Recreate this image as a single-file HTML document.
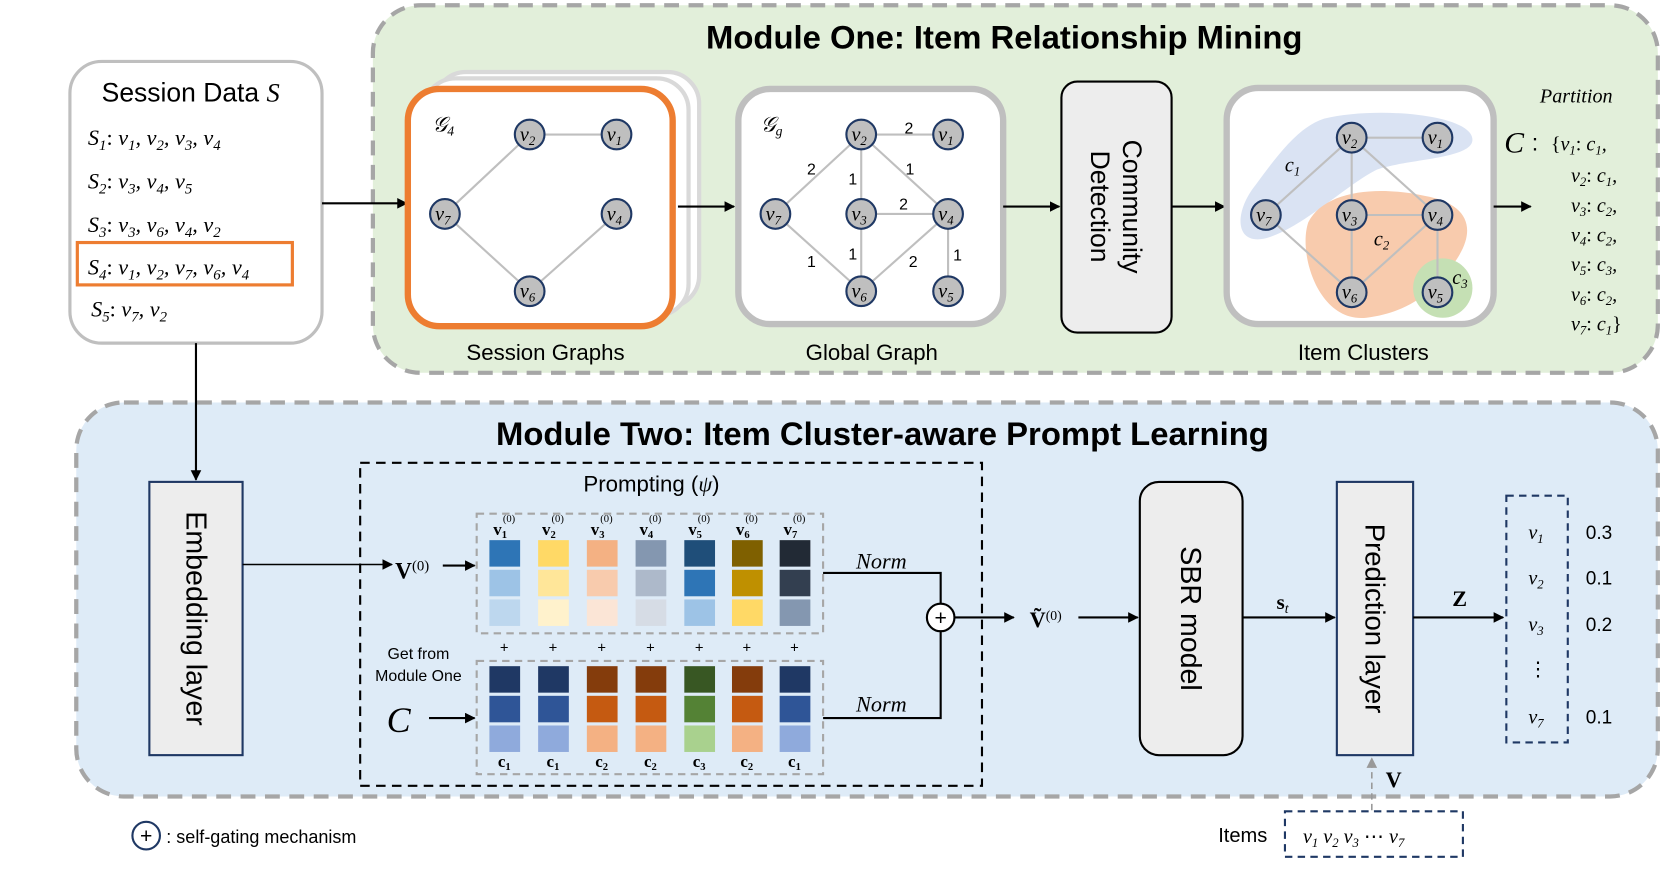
<!DOCTYPE html>
<html><head><meta charset="utf-8"><style>
html,body{margin:0;padding:0;background:#fff;}
svg{display:block;}
.s{font-family:"Liberation Sans",sans-serif;}
.m{font-family:"Liberation Serif",serif;font-style:italic;}
.b{font-family:"Liberation Serif",serif;font-weight:bold;}
</style></head><body>
<svg width="1661" height="878" viewBox="0 0 1568 829" preserveAspectRatio="none" xmlns="http://www.w3.org/2000/svg">
<defs>
<marker id="ar" markerWidth="10" markerHeight="10" refX="9" refY="5" orient="auto" markerUnits="userSpaceOnUse"><path d="M0,0 L10,5 L0,10 z" fill="#000"/></marker>
<marker id="arg" markerWidth="10" markerHeight="10" refX="9" refY="5" orient="auto" markerUnits="userSpaceOnUse"><path d="M0,0 L10,5 L0,10 z" fill="#999"/></marker>
<g id="nd"><circle r="14" fill="#bfbfbf" stroke="#1f3864" stroke-width="2"/></g>
</defs>

<!-- Module One -->
<rect x="352" y="5" width="1213" height="347" rx="45" fill="#e2efda" stroke="#a6a6a6" stroke-width="4" stroke-dasharray="14,9"/>
<text x="948" y="46" text-anchor="middle" class="s" font-size="31" font-weight="bold">Module One: Item Relationship Mining</text>

<!-- Module Two -->
<rect x="72" y="380" width="1493" height="372" rx="45" fill="#deebf7" stroke="#a6a6a6" stroke-width="4" stroke-dasharray="14,9"/>
<text x="833" y="420" text-anchor="middle" class="s" font-size="31" font-weight="bold">Module Two: Item Cluster-aware Prompt Learning</text>

<!-- Session data -->
<rect x="66" y="58" width="238" height="266" rx="30" fill="#fff" stroke="#bfbfbf" stroke-width="3"/>
<text x="96" y="96" class="s" font-size="25">Session Data <tspan class="m">S</tspan></text>
<g class="m" font-size="21">
<text x="83" y="137">S<tspan font-size="14" baseline-shift="-30%">1</tspan><tspan font-style="normal">: </tspan>v<tspan font-size="14" baseline-shift="-30%">1</tspan>, v<tspan font-size="14" baseline-shift="-30%">2</tspan>, v<tspan font-size="14" baseline-shift="-30%">3</tspan>, v<tspan font-size="14" baseline-shift="-30%">4</tspan></text>
<text x="83" y="178">S<tspan font-size="14" baseline-shift="-30%">2</tspan><tspan font-style="normal">: </tspan>v<tspan font-size="14" baseline-shift="-30%">3</tspan>, v<tspan font-size="14" baseline-shift="-30%">4</tspan>, v<tspan font-size="14" baseline-shift="-30%">5</tspan></text>
<text x="83" y="219">S<tspan font-size="14" baseline-shift="-30%">3</tspan><tspan font-style="normal">: </tspan>v<tspan font-size="14" baseline-shift="-30%">3</tspan>, v<tspan font-size="14" baseline-shift="-30%">6</tspan>, v<tspan font-size="14" baseline-shift="-30%">4</tspan>, v<tspan font-size="14" baseline-shift="-30%">2</tspan></text>
<text x="83" y="259">S<tspan font-size="14" baseline-shift="-30%">4</tspan><tspan font-style="normal">: </tspan>v<tspan font-size="14" baseline-shift="-30%">1</tspan>, v<tspan font-size="14" baseline-shift="-30%">2</tspan>, v<tspan font-size="14" baseline-shift="-30%">7</tspan>, v<tspan font-size="14" baseline-shift="-30%">6</tspan>, v<tspan font-size="14" baseline-shift="-30%">4</tspan></text>
<text x="86" y="299">S<tspan font-size="14" baseline-shift="-30%">5</tspan><tspan font-style="normal">: </tspan>v<tspan font-size="14" baseline-shift="-30%">7</tspan>, v<tspan font-size="14" baseline-shift="-30%">2</tspan></text>
</g>
<rect x="73" y="229" width="203" height="40" fill="none" stroke="#ed7d31" stroke-width="3"/>

<line x1="304" y1="192" x2="384" y2="192" stroke="#000" stroke-width="2" marker-end="url(#ar)"/>

<!-- Session graphs -->
<rect x="410" y="68" width="250" height="222" rx="30" fill="#fff" stroke="#d9d9d9" stroke-width="4"/>
<rect x="400" y="74" width="250" height="224" rx="30" fill="#fff" stroke="#d9d9d9" stroke-width="4"/>
<rect x="385" y="84" width="250" height="224" rx="30" fill="#fff" stroke="#ed7d31" stroke-width="6"/>
<text x="408" y="124" class="m" font-size="20">𝒢<tspan font-size="13" baseline-shift="-30%">4</tspan></text>
<g stroke="#bfbfbf" stroke-width="2">
<line x1="500" y1="127" x2="582" y2="127"/><line x1="500" y1="127" x2="420" y2="202"/>
<line x1="420" y1="202" x2="500" y2="275"/><line x1="500" y1="275" x2="582" y2="202"/>
</g>
<text x="515" y="340" text-anchor="middle" class="s" font-size="21">Session Graphs</text>

<line x1="640" y1="195" x2="693" y2="195" stroke="#000" stroke-width="2" marker-end="url(#ar)"/>

<!-- Global graph -->
<rect x="697" y="84" width="250" height="222" rx="30" fill="#fff" stroke="#bfbfbf" stroke-width="6"/>
<text x="718" y="124" class="m" font-size="20">𝒢<tspan font-size="13" baseline-shift="-30%">g</tspan></text>
<g stroke="#bfbfbf" stroke-width="2">
<line x1="813" y1="127" x2="895" y2="127"/><line x1="813" y1="127" x2="732" y2="202"/>
<line x1="813" y1="127" x2="813" y2="202"/><line x1="813" y1="127" x2="895" y2="202"/>
<line x1="813" y1="202" x2="895" y2="202"/><line x1="813" y1="202" x2="813" y2="275"/>
<line x1="732" y1="202" x2="813" y2="275"/><line x1="895" y1="202" x2="813" y2="275"/>
<line x1="895" y1="202" x2="895" y2="275"/>
</g>
<g class="s" font-size="15" text-anchor="middle">
<text x="858" y="126">2</text><text x="766" y="165">2</text><text x="805" y="174">1</text>
<text x="859" y="165">1</text><text x="853" y="198">2</text><text x="805" y="245">1</text>
<text x="766" y="252">1</text><text x="862" y="252">2</text><text x="904" y="246">1</text>
</g>
<text x="823" y="340" text-anchor="middle" class="s" font-size="21">Global Graph</text>

<line x1="947" y1="195" x2="1000" y2="195" stroke="#000" stroke-width="2" marker-end="url(#ar)"/>
<rect x="1002" y="77" width="104" height="237" rx="15" fill="#ededed" stroke="#000" stroke-width="2"/>
<text transform="translate(1054,195) rotate(90)" text-anchor="middle" class="s" font-size="25"><tspan x="0" dy="-6">Community</tspan><tspan x="0" dy="30">Detection</tspan></text>
<line x1="1106" y1="195" x2="1156" y2="195" stroke="#000" stroke-width="2" marker-end="url(#ar)"/>

<!-- Item clusters -->
<rect x="1158" y="83" width="252" height="223" rx="30" fill="#fff" stroke="#bfbfbf" stroke-width="6"/>
<path d="M1250,112 C1300,100 1390,108 1390,132 C1390,150 1330,150 1300,160 C1270,175 1230,215 1195,225 C1165,232 1165,200 1185,175 C1205,148 1225,120 1250,112 Z" fill="#dae3f3"/>
<path d="M1235,210 C1250,180 1300,175 1345,185 C1385,192 1395,215 1375,245 C1355,275 1330,295 1290,300 C1245,305 1225,240 1235,210 Z" fill="#f8cbad"/>
<circle cx="1362" cy="272" r="28" fill="#c5e0b4"/>
<g stroke="#bfbfbf" stroke-width="2">
<line x1="1276" y1="130" x2="1357" y2="130"/><line x1="1276" y1="130" x2="1195" y2="203"/>
<line x1="1276" y1="130" x2="1276" y2="203"/><line x1="1276" y1="130" x2="1357" y2="203"/>
<line x1="1276" y1="203" x2="1357" y2="203"/><line x1="1276" y1="203" x2="1276" y2="276"/>
<line x1="1195" y1="203" x2="1276" y2="276"/><line x1="1357" y1="203" x2="1276" y2="276"/>
<line x1="1357" y1="203" x2="1357" y2="276"/>
</g>
<g class="m" font-size="19">
<text x="1213" y="162">c<tspan font-size="12" baseline-shift="-30%">1</tspan></text>
<text x="1297" y="232">c<tspan font-size="12" baseline-shift="-30%">2</tspan></text>
<text x="1371" y="268">c<tspan font-size="12" baseline-shift="-30%">3</tspan></text>
</g>
<text x="1287" y="340" text-anchor="middle" class="s" font-size="21">Item Clusters</text>

<!-- nodes -->
<g>
<use href="#nd" x="500" y="127"/><use href="#nd" x="582" y="127"/><use href="#nd" x="420" y="202"/><use href="#nd" x="582" y="202"/><use href="#nd" x="500" y="275"/>
<use href="#nd" x="813" y="127"/><use href="#nd" x="895" y="127"/><use href="#nd" x="732" y="202"/><use href="#nd" x="813" y="202"/><use href="#nd" x="895" y="202"/><use href="#nd" x="813" y="275"/><use href="#nd" x="895" y="275"/>
<use href="#nd" x="1276" y="130"/><use href="#nd" x="1357" y="130"/><use href="#nd" x="1195" y="203"/><use href="#nd" x="1276" y="203"/><use href="#nd" x="1357" y="203"/><use href="#nd" x="1276" y="276"/><use href="#nd" x="1357" y="276"/>
</g>
<g class="m" font-size="19" text-anchor="middle">
<text x="498" y="133">v<tspan font-size="12" baseline-shift="-30%">2</tspan></text><text x="580" y="133">v<tspan font-size="12" baseline-shift="-30%">1</tspan></text><text x="418" y="208">v<tspan font-size="12" baseline-shift="-30%">7</tspan></text><text x="580" y="208">v<tspan font-size="12" baseline-shift="-30%">4</tspan></text><text x="498" y="281">v<tspan font-size="12" baseline-shift="-30%">6</tspan></text>
<text x="811" y="133">v<tspan font-size="12" baseline-shift="-30%">2</tspan></text><text x="893" y="133">v<tspan font-size="12" baseline-shift="-30%">1</tspan></text><text x="730" y="208">v<tspan font-size="12" baseline-shift="-30%">7</tspan></text><text x="811" y="208">v<tspan font-size="12" baseline-shift="-30%">3</tspan></text><text x="893" y="208">v<tspan font-size="12" baseline-shift="-30%">4</tspan></text><text x="811" y="281">v<tspan font-size="12" baseline-shift="-30%">6</tspan></text><text x="893" y="281">v<tspan font-size="12" baseline-shift="-30%">5</tspan></text>
<text x="1274" y="136">v<tspan font-size="12" baseline-shift="-30%">2</tspan></text><text x="1355" y="136">v<tspan font-size="12" baseline-shift="-30%">1</tspan></text><text x="1193" y="209">v<tspan font-size="12" baseline-shift="-30%">7</tspan></text><text x="1274" y="209">v<tspan font-size="12" baseline-shift="-30%">3</tspan></text><text x="1355" y="209">v<tspan font-size="12" baseline-shift="-30%">4</tspan></text><text x="1274" y="282">v<tspan font-size="12" baseline-shift="-30%">6</tspan></text><text x="1355" y="282">v<tspan font-size="12" baseline-shift="-30%">5</tspan></text>
</g>

<line x1="1410" y1="195" x2="1445" y2="195" stroke="#000" stroke-width="2" marker-end="url(#ar)"/>
<text x="1488" y="97" text-anchor="middle" class="m" font-size="19">Partition</text>
<text x="1420" y="144" class="m" font-size="28">C</text><text x="1446" y="142" class="s" font-size="22">:</text>
<g class="m" font-size="19">
<text x="1464" y="142"><tspan font-style="normal">{</tspan>v<tspan font-size="12" baseline-shift="-30%">1</tspan><tspan font-style="normal">: </tspan>c<tspan font-size="12" baseline-shift="-30%">1</tspan>,</text>
<text x="1483" y="172">v<tspan font-size="12" baseline-shift="-30%">2</tspan><tspan font-style="normal">: </tspan>c<tspan font-size="12" baseline-shift="-30%">1</tspan>,</text>
<text x="1483" y="200">v<tspan font-size="12" baseline-shift="-30%">3</tspan><tspan font-style="normal">: </tspan>c<tspan font-size="12" baseline-shift="-30%">2</tspan>,</text>
<text x="1483" y="228">v<tspan font-size="12" baseline-shift="-30%">4</tspan><tspan font-style="normal">: </tspan>c<tspan font-size="12" baseline-shift="-30%">2</tspan>,</text>
<text x="1483" y="256">v<tspan font-size="12" baseline-shift="-30%">5</tspan><tspan font-style="normal">: </tspan>c<tspan font-size="12" baseline-shift="-30%">3</tspan>,</text>
<text x="1483" y="284">v<tspan font-size="12" baseline-shift="-30%">6</tspan><tspan font-style="normal">: </tspan>c<tspan font-size="12" baseline-shift="-30%">2</tspan>,</text>
<text x="1483" y="312">v<tspan font-size="12" baseline-shift="-30%">7</tspan><tspan font-style="normal">: </tspan>c<tspan font-size="12" baseline-shift="-30%">1</tspan><tspan font-style="normal">}</tspan></text>
</g>

<!-- Module two contents -->
<line x1="185" y1="324" x2="185" y2="453" stroke="#000" stroke-width="2" marker-end="url(#ar)"/>
<rect x="141" y="455" width="88" height="258" fill="#ededed" stroke="#1f3864" stroke-width="2"/>
<text transform="translate(185,584) rotate(90)" text-anchor="middle" dy="9" class="s" font-size="27">Embedding layer</text>
<line x1="229" y1="533" x2="370" y2="533" stroke="#000" stroke-width="1.5" marker-end="url(#ar)"/>

<rect x="340" y="437" width="587" height="305" fill="none" stroke="#000" stroke-width="2" stroke-dasharray="9,6"/>
<text x="615" y="464" text-anchor="middle" class="s" font-size="21">Prompting (<tspan class="m">ψ</tspan>)</text>
<text x="373" y="546" class="b" font-size="22">V<tspan font-size="14" font-weight="normal" baseline-shift="super">(0)</tspan></text>
<line x1="418" y1="534" x2="448" y2="534" stroke="#000" stroke-width="2" marker-end="url(#ar)"/>
<text x="395" y="622" text-anchor="middle" class="s" font-size="15">Get from</text>
<text x="395" y="643" text-anchor="middle" class="s" font-size="15">Module One</text>
<text x="365" y="691" class="m" font-size="34">C</text>
<line x1="405" y1="678" x2="448" y2="678" stroke="#000" stroke-width="2" marker-end="url(#ar)"/>

<rect x="450" y="485" width="327" height="113" fill="none" stroke="#a6a6a6" stroke-width="2" stroke-dasharray="7,5"/>
<rect x="450" y="624" width="327" height="107" fill="none" stroke="#a6a6a6" stroke-width="2" stroke-dasharray="7,5"/>
<g>
<rect x="462" y="510" width="29" height="25" fill="#2e75b6"/><rect x="462" y="538" width="29" height="25" fill="#9dc3e6"/><rect x="462" y="566" width="29" height="25" fill="#bdd7ee"/>
<rect x="508" y="510" width="29" height="25" fill="#ffd966"/><rect x="508" y="538" width="29" height="25" fill="#ffe699"/><rect x="508" y="566" width="29" height="25" fill="#fff2cc"/>
<rect x="554" y="510" width="29" height="25" fill="#f4b183"/><rect x="554" y="538" width="29" height="25" fill="#f8cbad"/><rect x="554" y="566" width="29" height="25" fill="#fbe5d6"/>
<rect x="600" y="510" width="29" height="25" fill="#8497b0"/><rect x="600" y="538" width="29" height="25" fill="#adb9ca"/><rect x="600" y="566" width="29" height="25" fill="#d6dce5"/>
<rect x="646" y="510" width="29" height="25" fill="#1f4e79"/><rect x="646" y="538" width="29" height="25" fill="#2e75b6"/><rect x="646" y="566" width="29" height="25" fill="#9dc3e6"/>
<rect x="691" y="510" width="29" height="25" fill="#7f6000"/><rect x="691" y="538" width="29" height="25" fill="#bf9000"/><rect x="691" y="566" width="29" height="25" fill="#ffd966"/>
<rect x="736" y="510" width="29" height="25" fill="#222a35"/><rect x="736" y="538" width="29" height="25" fill="#333f50"/><rect x="736" y="566" width="29" height="25" fill="#8497b0"/>

<rect x="462" y="629" width="29" height="25" fill="#1f3864"/><rect x="462" y="657" width="29" height="25" fill="#2f5597"/><rect x="462" y="685" width="29" height="25" fill="#8faadc"/>
<rect x="508" y="629" width="29" height="25" fill="#1f3864"/><rect x="508" y="657" width="29" height="25" fill="#2f5597"/><rect x="508" y="685" width="29" height="25" fill="#8faadc"/>
<rect x="554" y="629" width="29" height="25" fill="#843c0c"/><rect x="554" y="657" width="29" height="25" fill="#c55a11"/><rect x="554" y="685" width="29" height="25" fill="#f4b183"/>
<rect x="600" y="629" width="29" height="25" fill="#843c0c"/><rect x="600" y="657" width="29" height="25" fill="#c55a11"/><rect x="600" y="685" width="29" height="25" fill="#f4b183"/>
<rect x="646" y="629" width="29" height="25" fill="#385723"/><rect x="646" y="657" width="29" height="25" fill="#548235"/><rect x="646" y="685" width="29" height="25" fill="#a9d18e"/>
<rect x="691" y="629" width="29" height="25" fill="#843c0c"/><rect x="691" y="657" width="29" height="25" fill="#c55a11"/><rect x="691" y="685" width="29" height="25" fill="#f4b183"/>
<rect x="736" y="629" width="29" height="25" fill="#1f3864"/><rect x="736" y="657" width="29" height="25" fill="#2f5597"/><rect x="736" y="685" width="29" height="25" fill="#8faadc"/>
</g>
<g class="b" font-size="16" text-anchor="middle">
<text x="476" y="505">v<tspan font-size="10" baseline-shift="-30%">1</tspan><tspan font-size="10" font-weight="normal" dy="-12" dx="-4">(0)</tspan></text>
<text x="522" y="505">v<tspan font-size="10" baseline-shift="-30%">2</tspan><tspan font-size="10" font-weight="normal" dy="-12" dx="-4">(0)</tspan></text>
<text x="568" y="505">v<tspan font-size="10" baseline-shift="-30%">3</tspan><tspan font-size="10" font-weight="normal" dy="-12" dx="-4">(0)</tspan></text>
<text x="614" y="505">v<tspan font-size="10" baseline-shift="-30%">4</tspan><tspan font-size="10" font-weight="normal" dy="-12" dx="-4">(0)</tspan></text>
<text x="660" y="505">v<tspan font-size="10" baseline-shift="-30%">5</tspan><tspan font-size="10" font-weight="normal" dy="-12" dx="-4">(0)</tspan></text>
<text x="705" y="505">v<tspan font-size="10" baseline-shift="-30%">6</tspan><tspan font-size="10" font-weight="normal" dy="-12" dx="-4">(0)</tspan></text>
<text x="750" y="505">v<tspan font-size="10" baseline-shift="-30%">7</tspan><tspan font-size="10" font-weight="normal" dy="-12" dx="-4">(0)</tspan></text>
<text x="476" y="724">c<tspan font-size="10" baseline-shift="-30%">1</tspan></text>
<text x="522" y="724">c<tspan font-size="10" baseline-shift="-30%">1</tspan></text>
<text x="568" y="724">c<tspan font-size="10" baseline-shift="-30%">2</tspan></text>
<text x="614" y="724">c<tspan font-size="10" baseline-shift="-30%">2</tspan></text>
<text x="660" y="724">c<tspan font-size="10" baseline-shift="-30%">3</tspan></text>
<text x="705" y="724">c<tspan font-size="10" baseline-shift="-30%">2</tspan></text>
<text x="750" y="724">c<tspan font-size="10" baseline-shift="-30%">1</tspan></text>
</g>
<g class="s" font-size="14" text-anchor="middle">
<text x="476" y="616">+</text><text x="522" y="616">+</text><text x="568" y="616">+</text><text x="614" y="616">+</text><text x="660" y="616">+</text><text x="705" y="616">+</text><text x="750" y="616">+</text>
</g>

<polyline points="777,541 888,541 888,570" fill="none" stroke="#000" stroke-width="2"/>
<polyline points="777,678 888,678 888,596" fill="none" stroke="#000" stroke-width="2"/>
<text x="832" y="537" text-anchor="middle" class="m" font-size="21">Norm</text>
<text x="832" y="672" text-anchor="middle" class="m" font-size="21">Norm</text>
<circle cx="888" cy="583" r="13" fill="#fff" stroke="#000" stroke-width="2"/>
<text x="888" y="590" text-anchor="middle" class="s" font-size="20">+</text>
<line x1="901" y1="583" x2="957" y2="583" stroke="#000" stroke-width="2" marker-end="url(#ar)"/>
<text x="972" y="592" class="b" font-size="21">Ṽ<tspan font-size="13" font-weight="normal" baseline-shift="super">(0)</tspan></text>
<line x1="1018" y1="583" x2="1074" y2="583" stroke="#000" stroke-width="2" marker-end="url(#ar)"/>

<rect x="1076" y="455" width="97" height="258" rx="18" fill="#ededed" stroke="#000" stroke-width="2"/>
<text transform="translate(1124,584) rotate(90)" text-anchor="middle" dy="9" class="s" font-size="27">SBR model</text>
<line x1="1173" y1="583" x2="1260" y2="583" stroke="#000" stroke-width="2" marker-end="url(#ar)"/>
<text x="1205" y="575" class="b" font-size="20">s<tspan font-size="13" class="m" font-weight="normal" baseline-shift="-30%">t</tspan></text>

<rect x="1262" y="455" width="72" height="258" fill="#ededed" stroke="#1f3864" stroke-width="2"/>
<text transform="translate(1298,584) rotate(90)" text-anchor="middle" dy="9" class="s" font-size="26">Prediction layer</text>
<line x1="1334" y1="583" x2="1419" y2="583" stroke="#000" stroke-width="2" marker-end="url(#ar)"/>
<text x="1371" y="572" class="b" font-size="21">Z</text>

<rect x="1422" y="468" width="58" height="233" fill="none" stroke="#1f3864" stroke-width="2" stroke-dasharray="7,5"/>
<g class="m" font-size="19" text-anchor="middle">
<text x="1450" y="509">v<tspan font-size="12" baseline-shift="-30%">1</tspan></text>
<text x="1450" y="552">v<tspan font-size="12" baseline-shift="-30%">2</tspan></text>
<text x="1450" y="596">v<tspan font-size="12" baseline-shift="-30%">3</tspan></text>
<text x="1452" y="638" font-style="normal">⋮</text>
<text x="1450" y="683">v<tspan font-size="12" baseline-shift="-30%">7</tspan></text>
</g>
<g class="s" font-size="18">
<text x="1497" y="509">0.3</text><text x="1497" y="552">0.1</text><text x="1497" y="596">0.2</text><text x="1497" y="683">0.1</text>
</g>

<line x1="1295" y1="765" x2="1295" y2="716" stroke="#999" stroke-width="1.5" stroke-dasharray="6,4" marker-end="url(#arg)"/>
<text x="1308" y="743" class="b" font-size="21">V</text>
<rect x="1213" y="766" width="168" height="43" fill="none" stroke="#1f3864" stroke-width="2" stroke-dasharray="7,5"/>
<text x="1150" y="795" class="s" font-size="19">Items</text>
<text x="1230" y="796" class="m" font-size="19">v<tspan font-size="12" baseline-shift="-30%">1</tspan> v<tspan font-size="12" baseline-shift="-30%">2</tspan> v<tspan font-size="12" baseline-shift="-30%">3</tspan><tspan font-style="normal"> ⋯ </tspan>v<tspan font-size="12" baseline-shift="-30%">7</tspan></text>

<circle cx="138" cy="789" r="13" fill="#fff" stroke="#1f3864" stroke-width="2"/>
<text x="138" y="796" text-anchor="middle" class="s" font-size="20">+</text>
<text x="157" y="796" class="s" font-size="17">: self-gating mechanism</text>
</svg>
</body></html>
